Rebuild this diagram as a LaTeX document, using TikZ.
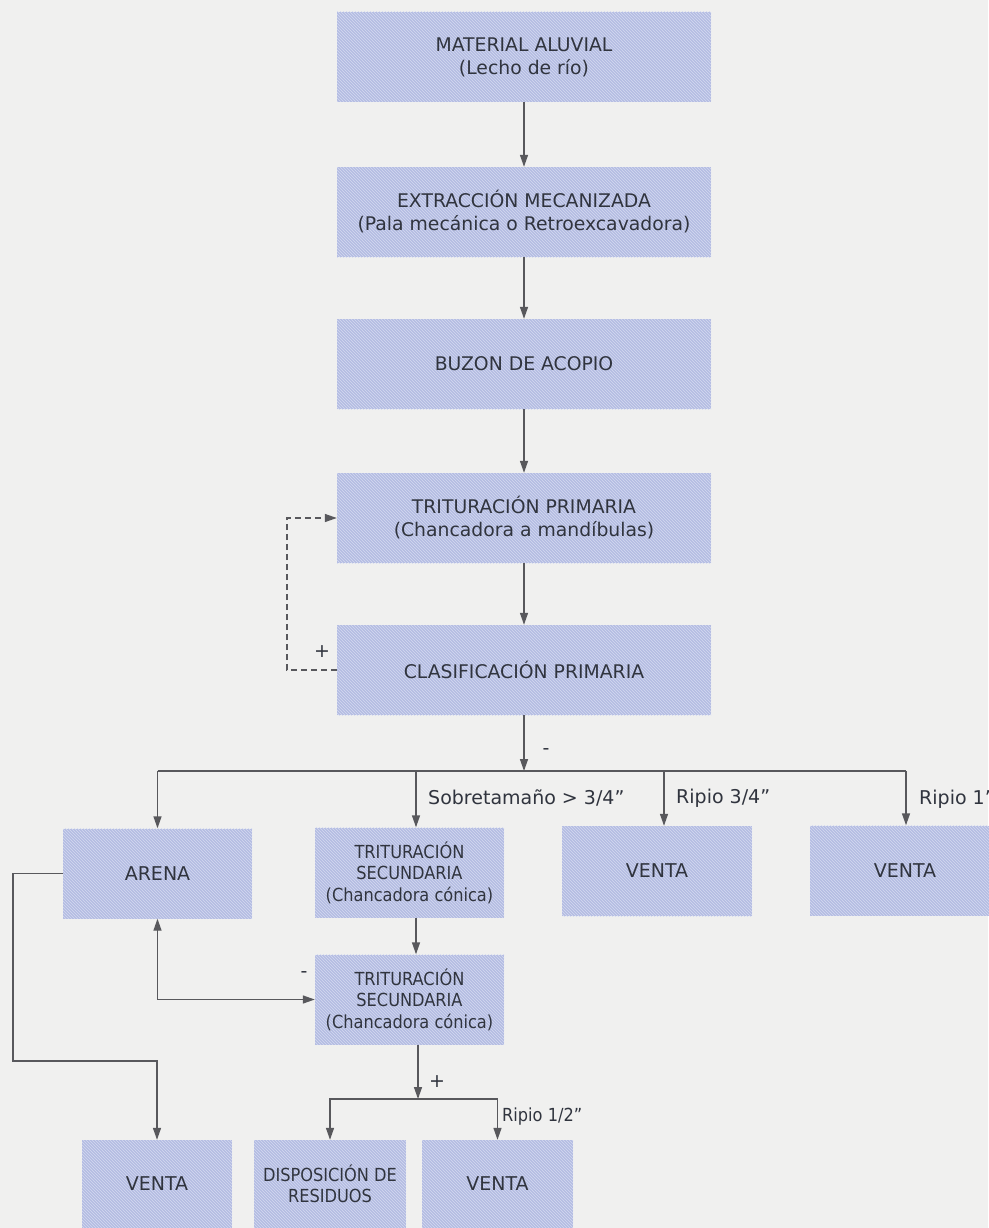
\documentclass[tikz,border=0pt]{standalone}
\usepackage{fontspec}
\setmainfont{DejaVu Sans}
\newfontfamily\condfont{DejaVu Sans Condensed}
\usepackage{xcolor}
\usepackage{tikz}
\usetikzlibrary{positioning,calc,patterns,arrows.meta}

\definecolor{bgpaper}{RGB}{240,240,239}
\definecolor{boxblue}{RGB}{180,188,226}
\definecolor{hatchblue}{RGB}{212,218,240}
\definecolor{inkgray}{RGB}{48,52,62}
\definecolor{linegray}{RGB}{88,88,92}

\begin{document}
\begin{tikzpicture}[x=1pt,y=-1pt,
    procbox/.style={fill=boxblue, postaction={pattern=north west lines, pattern color=hatchblue},
        text=inkgray, align=center, inner sep=0pt, minimum width=374pt, minimum height=90pt,
        font={\fontsize{18.8}{23}\selectfont}},
    smallbox/.style={procbox, minimum width=189pt, font={\condfont\fontsize{18}{21.5}\selectfont}},
    wordbox/.style={procbox, minimum width=189pt, font={\fontsize{19}{23}\selectfont}},
    flow/.style={draw=linegray, line width=1.4pt, -{Triangle[length=12pt,width=8pt]}},
    tag/.style={text=inkgray, inner sep=0pt, font={\fontsize{19}{22}\selectfont}}]

    % Paper
    \fill[bgpaper] (0,0) rectangle (988,1228);
    \useasboundingbox (0,0) rectangle (988,1228);

    % Main line
    \node[procbox] (aluvial) at (524,57) {MATERIAL ALUVIAL\\(Lecho de río)};
    \node[procbox] (extraccion) at (524,212) {EXTRACCIÓN MECANIZADA\\(Pala mecánica o Retroexcavadora)};
    \node[procbox] (buzon) at (524,364) {BUZON DE ACOPIO};
    \node[procbox] (tprimaria) at (524,518) {TRITURACIÓN PRIMARIA\\(Chancadora a mandíbulas)};
    \node[procbox] (clasif) at (524,670) {CLASIFICACIÓN PRIMARIA};

    \draw[flow] (aluvial) -- (extraccion);
    \draw[flow] (extraccion) -- (buzon);
    \draw[flow] (buzon) -- (tprimaria);
    \draw[flow] (tprimaria) -- (clasif);

    % Oversize back to primary crusher
    \draw[flow, dash pattern=on 6pt off 4pt] (clasif.west) -- ++(-50,0) |- (tprimaria.west);
    \node[tag] (mas1) at (322,652) {+};

    % Products of the screen
    \node[wordbox] (arena) at (157.5,873.5) {ARENA};
    \node[smallbox] (tsec1) at (409.5,872.5) {TRITURACIÓN\\SECUNDARIA\\(Chancadora cónica)};
    \node[wordbox, minimum width=190pt] (venta1) at (657,871) {VENTA};
    \node[wordbox, minimum width=190pt] (venta2) at (905,870.5) {VENTA};
    \node[smallbox] (tsec2) at (409.5,999.5) {TRITURACIÓN\\SECUNDARIA\\(Chancadora cónica)};

    \coordinate (bus) at (524,771);
    \coordinate (b1) at (416,771);
    \coordinate (b2) at (664,771);
    \coordinate (b3) at (906,771);
    \draw[flow] (clasif) -- (bus);
    \node[tag] (menos1) at (546,752) {-};
    \draw[draw=linegray, line width=1.4pt] (bus -| arena.north) -- (b3);
    \draw[flow] (bus -| arena.north) -- (arena.north);
    \draw[flow] (b1) -- (b1 |- tsec1.north);
    \draw[flow] (b2) -- (b2 |- venta1.north);
    \draw[flow] (b3) -- (b3 |- venta2.north);
    \node[tag, anchor=west] (sobre) at (428,798) {Sobretamaño > 3/4”};
    \node[tag, anchor=west] (r34) at (676,798) {Ripio 3/4”};
    \node[tag, anchor=west] (r1) at (919,799) {Ripio 1”};

    % Secondary crushing
    \draw[flow] (b1 |- tsec1.south) -- (b1 |- tsec2.north);
    \draw[flow, {Triangle[length=12pt,width=8pt]}-{Triangle[length=12pt,width=8pt]}] (arena.south) |- (tsec2.west);
    \node[tag] (menos2) at (304,975) {-};

    % Bottom row
    \node[wordbox, minimum width=150pt, minimum height=88pt] (venta3) at (157,1184) {VENTA};
    \node[smallbox, minimum width=152pt, minimum height=88pt] (residuos) at (330,1184) {DISPOSICIÓN DE\\RESIDUOS};
    \node[wordbox, minimum width=151pt, minimum height=88pt] (venta4) at (497.5,1184) {VENTA};

    \coordinate (sand) at (13,1061);
    \draw[flow] (arena.west) -| (sand) -| (venta3.north);

    \coordinate (s2) at (418,1099);
    \draw[flow] (s2 |- tsec2.south) -- (s2);
    \draw[flow] (s2) -| (residuos.north);
    \draw[flow] (s2) -| (venta4.north);
    \node[tag] (mas2) at (437,1082) {+};
    \node[tag, anchor=west, font={\condfont\fontsize{18}{20}\selectfont}] (r12) at (502,1117) {Ripio 1/2”};
\end{tikzpicture}
\end{document}
